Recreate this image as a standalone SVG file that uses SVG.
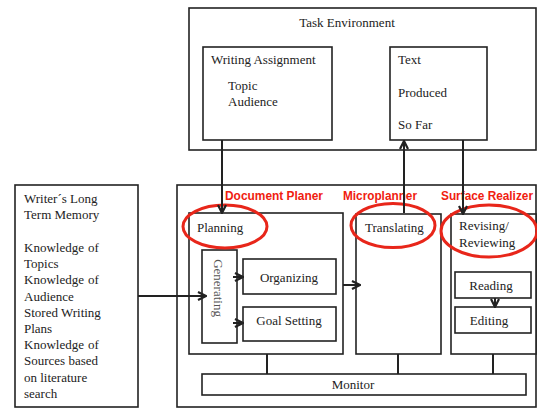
<svg xmlns="http://www.w3.org/2000/svg" width="537" height="408" viewBox="0 0 537 408">
<defs>
<style>
.box{fill:#fff;stroke:#222;stroke-width:1.6}
.t{font-family:"Liberation Serif","Times New Roman",serif;font-size:13px;fill:#222}
.red{font-family:"Liberation Sans",Arial,sans-serif;font-size:12px;font-weight:bold;fill:#f0200f}
.ell{fill:none;stroke:#e8261a;stroke-width:3}
.ln{fill:none;stroke:#222;stroke-width:2}
.ar{fill:none;stroke:#222;stroke-width:2;marker-end:url(#ah)}
</style>
<marker id="ah" viewBox="0 0 10 10" refX="9" refY="5" markerWidth="5" markerHeight="5" orient="auto" markerUnits="strokeWidth">
<path d="M1,1 L9,5 L1,9" fill="none" stroke="#222" stroke-width="2.2"/>
</marker>
</defs>
<rect width="537" height="408" fill="#fff"/>

<g id="task-environment">
<rect class="box" x="189" y="8" width="347" height="142"/>
<text class="t" x="347" y="27" text-anchor="middle">Task Environment</text>
</g>
<g id="writing-assignment">
<rect class="box" x="203" y="47" width="129" height="93"/>
<text class="t" x="211" y="64">Writing  Assignment</text>
<text class="t" x="228" y="90">Topic</text>
<text class="t" x="228" y="106">Audience</text>
</g>
<g id="text-produced">
<rect class="box" x="390" y="47" width="97" height="93"/>
<text class="t" x="398" y="64">Text</text>
<text class="t" x="398" y="97">Produced</text>
<text class="t" x="398" y="129">So Far</text>
</g>

<g id="long-term-memory">
<rect class="box" x="15" y="185" width="123" height="222"/>
<text class="t" x="24" y="203">Writer´s  Long</text>
<text class="t" x="24" y="219">Term  Memory</text>
<text class="t" x="24" y="252">Knowledge<tspan x="88">of</tspan></text>
<text class="t" x="24" y="268">Topics</text>
<text class="t" x="24" y="284">Knowledge<tspan x="88">of</tspan></text>
<text class="t" x="24" y="301">Audience</text>
<text class="t" x="24" y="317">Stored Writing</text>
<text class="t" x="24" y="333">Plans</text>
<text class="t" x="24" y="349">Knowledge<tspan x="88">of</tspan></text>
<text class="t" x="24" y="365">Sources based</text>
<text class="t" x="24" y="382">on literature</text>
<text class="t" x="24" y="398">search</text>
</g>

<g id="writer-process">
<rect class="box" x="177" y="185" width="359" height="222"/>
<text class="red" x="225" y="200" textLength="98" lengthAdjust="spacingAndGlyphs">Document Planer</text>
<text class="red" x="343" y="200" textLength="74" lengthAdjust="spacingAndGlyphs">Microplanner</text>
<text class="red" x="441" y="200" textLength="92" lengthAdjust="spacingAndGlyphs">Surface Realizer</text>
</g>

<g id="planning">
<rect class="box" x="189" y="213" width="154" height="141"/>
<text class="t" x="197" y="232">Planning</text>
</g>
<g id="generating">
<rect class="box" x="202" y="250" width="35" height="93"/>
<text class="t" x="0" y="0" text-anchor="middle" style="fill:#555" transform="translate(214,288) rotate(90)">Generating</text>
</g>
<g id="organizing">
<rect class="box" x="243" y="259" width="93" height="35"/>
<text class="t" x="289" y="282" text-anchor="middle">Organizing</text>
</g>
<g id="goal-setting">
<rect class="box" x="243" y="307" width="93" height="34"/>
<text class="t" x="289" y="325" text-anchor="middle">Goal  Setting</text>
</g>
<g id="translating">
<rect class="box" x="356" y="214" width="85" height="140"/>
<text class="t" x="365" y="232">Translating</text>
</g>
<g id="revising">
<rect class="box" x="451" y="214" width="85" height="140"/>
<text class="t" x="459" y="230">Revising/</text>
<text class="t" x="459" y="247">Reviewing</text>
</g>
<g id="reading">
<rect class="box" x="455" y="272" width="76" height="26"/>
<text class="t" x="491" y="290" text-anchor="middle">Reading</text>
</g>
<g id="editing">
<rect class="box" x="455" y="307" width="76" height="26"/>
<text class="t" x="489" y="325" text-anchor="middle">Editing</text>
</g>
<g id="monitor">
<rect class="box" x="202" y="374" width="324" height="21"/>
<text class="t" x="353" y="389" text-anchor="middle">Monitor</text>
</g>

<g id="highlights">
<ellipse class="ell" cx="225" cy="226.5" rx="42" ry="21.5"/>
<ellipse class="ell" cx="393" cy="225.5" rx="42" ry="22"/>
<ellipse class="ell" cx="489" cy="231" rx="48" ry="26"/>
</g>

<g id="connectors">
<path class="ar" d="M222,140 V213"/>
<path class="ar" d="M404,213 V141"/>
<path class="ar" d="M463,140 V214"/>
<path class="ar" d="M138,296 H206"/>
<path class="ar" d="M233,277 H243"/>
<path class="ar" d="M233,323 H243"/>
<path class="ar" d="M343,285 H360"/>
<path class="ar" d="M495,298 V307"/>
<path class="ln" d="M267,354 V374 M398,354 V374 M493,354 V374"/>
</g>
</svg>
